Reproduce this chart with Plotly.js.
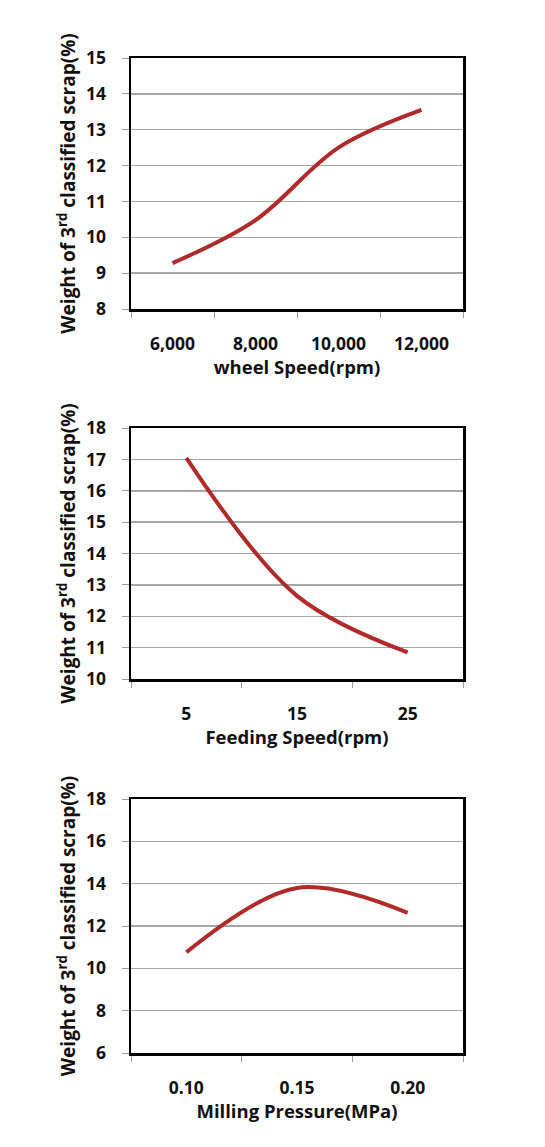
<!DOCTYPE html>
<html>
<head>
<meta charset="utf-8">
<script src="https://cdn.plot.ly/plotly-3.0.1.min.js"></script>
<style>html,body{margin:0;padding:0;background:#fff;}#chart{width:545px;height:1147px;}</style>
</head>
<body>
<div id="chart"></div>
<script>
const wheelSpeed = ["6,000", "8,000", "10,000", "12,000"];
const wheelScrap = [9.28, 10.48, 12.5, 13.55];
const feedingSpeed = ["5", "15", "25"];
const feedingScrap = [17.05, 12.65, 10.85];
const millingPressure = ["0.10", "0.15", "0.20"];
const millingScrap = [10.76, 13.8, 12.62];
const yTitle = "Weight of 3<sup>rd</sup> classified scrap(%)";
const xTitles = ["wheel Speed(rpm)", "Feeding Speed(rpm)", "Milling Pressure(MPa)"];

const lineColor = "#B02A2A";
const fontFam = "Open Sans, DejaVu Sans, sans-serif";
const mk = (x, y, xa, ya) => ({
  x: x, y: y, xaxis: xa, yaxis: ya, type: "scatter", mode: "lines",
  line: {color: lineColor, width: 4, shape: "spline", smoothing: 1},
  hoverinfo: "skip"
});
const data = [
  mk(wheelSpeed, wheelScrap, "x", "y"),
  mk(feedingSpeed, feedingScrap, "x2", "y2"),
  mk(millingPressure, millingScrap, "x3", "y3")
];
const W = 545, H = 1147;
const xd = [131 / W, 463 / W];
const yd = (top, bot) => [1 - bot / H, 1 - top / H];
const xax = (n, anchor, title) => ({
  type: "category", domain: xd, anchor: anchor,
  range: [-0.5, n - 0.5], tickson: "boundaries",
  ticks: "outside", ticklen: 6, tickcolor: "#999", tickwidth: 1,
  ticklabelstandoff: 17,
  showgrid: false, showline: true, linecolor: "#000", linewidth: 2.5, mirror: true,
  tickfont: {family: fontFam, size: 17.5, color: "#111", weight: "bold"},
  title: {text: title, font: {family: fontFam, size: 18.5, color: "#111", weight: "bold"}, standoff: 1},
  fixedrange: true
});
const yax = (domain, anchor, range, dtick) => ({
  domain: domain, anchor: anchor, range: range, dtick: dtick, tick0: range[0],
  ticks: "outside", ticklen: 7, tickcolor: "#999", tickwidth: 1,
  ticklabelstandoff: 12,
  showgrid: true, gridcolor: "#a6a6a6", gridwidth: 1.5,
  showline: true, linecolor: "#000", linewidth: 2.5, mirror: true, zeroline: false,
  tickfont: {family: fontFam, size: 17.5, color: "#111", weight: "bold"},
  title: {text: yTitle, font: {family: fontFam, size: 19, color: "#111", weight: "bold"}, standoff: 6},
  fixedrange: true
});
const layout = {
  width: W, height: H,
  margin: {l: 0, r: 0, t: 0, b: 0},
  paper_bgcolor: "#fff", plot_bgcolor: "#fff",
  showlegend: false,
  xaxis: xax(4, "y", xTitles[0]),
  yaxis: yax(yd(58, 309), "x", [8, 15], 1),
  xaxis2: xax(3, "y2", xTitles[1]),
  yaxis2: yax(yd(428, 679), "x2", [10, 18], 1),
  xaxis3: xax(3, "y3", xTitles[2]),
  yaxis3: yax(yd(799, 1053), "x3", [6, 18], 2)
};
Plotly.newPlot("chart", data, layout, {displayModeBar: false, staticPlot: true});
</script>
</body>
</html>
